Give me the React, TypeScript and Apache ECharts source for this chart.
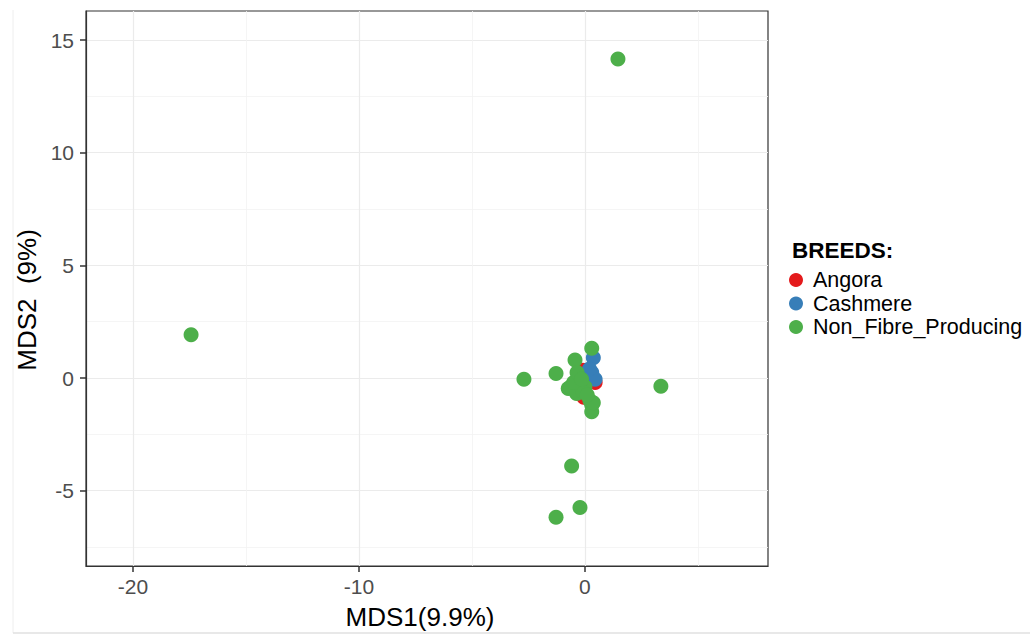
import React, { useEffect, useRef } from "react";
import * as echarts from "echarts";

const xMajorTicks = [-20, -10, 0];
const xMinorTicks = [-15, -5, 5];
const yMajorTicks = [-5, 0, 5, 10, 15];
const yMinorTicks = [-7.5, -2.5, 2.5, 7.5, 12.5];

const angora: number[][] = [
  [-0.1, 0.35],
  [0.45, -0.2],
  [-0.05, -0.85],
  [0.25, -0.05],
];

const cashmere: number[][] = [
  [0.37, 0.9],
  [0.3, 0.25],
  [0.45, -0.05],
  [0.2, 0.4],
];

const nonFibre: number[][] = [
  [1.46, 14.16],
  [-17.43, 1.92],
  [3.36, -0.36],
  [-0.59, -3.9],
  [-0.22, -5.74],
  [-1.28, -6.18],
  [-2.7, -0.05],
  [-1.28, 0.2],
  [0.3, 1.32],
  [-0.44, 0.8],
  [-0.74, -0.46],
  [-0.63, -0.38],
  [-0.37, -0.68],
  [-0.25, -0.3],
  [0.0, -0.4],
  [-0.3, 0.0],
  [0.22, -1.0],
  [0.3, -1.2],
  [0.3, -1.5],
  [0.37, -1.1],
  [-0.1, -0.6],
  [-0.5, -0.2],
  [0.1, -0.75],
  [-0.35, 0.25],
  [-0.15, -0.05],
];

const legendNames = ["Angora", "Cashmere", "Non_Fibre_Producing"];
const colors = ["#E41A1C", "#377EB8", "#4DAF4A"];

const X_MIN = -22.08;
const X_MAX = 8.1;
const Y_MIN = -8.34;
const Y_MAX = 16.29;

const FONT = "'Liberation Sans', Arial, Helvetica, sans-serif";

export default function App() {
  const ref = useRef<HTMLDivElement>(null);

  useEffect(() => {
    document.body.style.margin = "0";
    if (!ref.current) return;
    const chart = echarts.init(ref.current, null, { renderer: "svg" });

    const tickLabel = {
      color: "#4D4D4D",
      fontSize: 21,
      fontFamily: FONT,
    };
    const axisLine = {
      show: true,
      onZero: false,
      lineStyle: { color: "#333333", width: 1.2 },
    };
    const tickLine = { color: "#333333", width: 1.5 };

    const option: any = {
      animation: false,
      backgroundColor: "#ffffff",
      grid: {
        left: 86,
        right: 262,
        top: 11,
        bottom: 69,
        show: true,
        borderColor: "#333333",
        borderWidth: 1.2,
        backgroundColor: "transparent",
      },
      xAxis: [
        {
          type: "value",
          min: X_MIN,
          max: X_MAX,
          axisLine,
          axisTick: {
            show: true,
            length: 6,
            customValues: xMajorTicks,
            lineStyle: tickLine,
          },
          axisLabel: { ...tickLabel, margin: 10, customValues: xMajorTicks },
          splitLine: { show: true, lineStyle: { color: "#EBEBEB", width: 1.2 } },
        },
        {
          type: "value",
          min: X_MIN,
          max: X_MAX,
          gridIndex: 0,
          position: "bottom",
          axisLine: { show: false, onZero: false },
          axisTick: { show: false, customValues: xMinorTicks },
          axisLabel: { show: false, customValues: xMinorTicks },
          splitLine: { show: true, lineStyle: { color: "#F2F2F2", width: 0.8 } },
        },
      ],
      yAxis: [
        {
          type: "value",
          min: Y_MIN,
          max: Y_MAX,
          axisLine,
          axisTick: {
            show: true,
            length: 6,
            customValues: yMajorTicks,
            lineStyle: tickLine,
          },
          axisLabel: { ...tickLabel, margin: 12, customValues: yMajorTicks },
          splitLine: { show: true, lineStyle: { color: "#EBEBEB", width: 1.2 } },
        },
        {
          type: "value",
          min: Y_MIN,
          max: Y_MAX,
          gridIndex: 0,
          position: "left",
          axisLine: { show: false, onZero: false },
          axisTick: { show: false, customValues: yMinorTicks },
          axisLabel: { show: false, customValues: yMinorTicks },
          splitLine: { show: true, lineStyle: { color: "#F2F2F2", width: 0.8 } },
        },
      ],
      legend: {
        data: legendNames,
        orient: "vertical",
        left: 789,
        top: 269,
        padding: 0,
        itemWidth: 24,
        itemHeight: 14,
        itemGap: 1.5,
        icon: "circle",
        textStyle: {
          color: "#000000",
          fontSize: 21.5,
          lineHeight: 20,
          fontFamily: FONT,
          padding: [0, 0, 0, 0],
        },
      },
      graphic: [
        {
          type: "text",
          left: 792,
          top: 239,
          style: {
            text: "BREEDS:",
            fill: "#000000",
            fontSize: 22.5,
            fontWeight: "bold",
            fontFamily: FONT,
          },
        },
        {
          type: "text",
          x: 420,
          y: 617,
          style: {
            text: "MDS1(9.9%)",
            fill: "#000000",
            fontSize: 26,
            fontFamily: FONT,
            align: "center",
            verticalAlign: "middle",
          },
        },
        {
          type: "text",
          x: 27,
          y: 300,
          rotation: Math.PI / 2,
          style: {
            text: "MDS2  (9%)",
            fill: "#000000",
            fontSize: 26,
            fontFamily: FONT,
            align: "center",
            verticalAlign: "middle",
          },
        },
        {
          type: "line",
          shape: { x1: 13, y1: 10, x2: 13, y2: 633 },
          style: { stroke: "#EEEEEE", lineWidth: 1 },
          silent: true,
        },
        {
          type: "line",
          shape: { x1: 13, y1: 633, x2: 1030, y2: 633 },
          style: { stroke: "#E0E0E0", lineWidth: 1.5 },
          silent: true,
        },
      ],
      series: [
        {
          name: legendNames[0],
          type: "scatter",
          xAxisIndex: 0,
          yAxisIndex: 0,
          data: angora,
          symbolSize: 15,
          itemStyle: { color: colors[0], opacity: 1 },
        },
        {
          name: legendNames[1],
          type: "scatter",
          xAxisIndex: 0,
          yAxisIndex: 0,
          data: cashmere,
          symbolSize: 15,
          itemStyle: { color: colors[1], opacity: 1 },
        },
        {
          name: legendNames[2],
          type: "scatter",
          xAxisIndex: 0,
          yAxisIndex: 0,
          data: nonFibre,
          symbolSize: 15,
          itemStyle: { color: colors[2], opacity: 1 },
        },
      ],
    };

    chart.setOption(option);
    return () => {
      chart.dispose();
    };
  }, []);

  return <div ref={ref} style={{ width: 1030, height: 635 }} />;
}
